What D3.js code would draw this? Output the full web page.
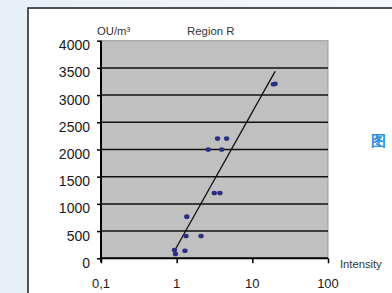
<!DOCTYPE html>
<html>
<head>
<meta charset="utf-8">
<script src="https://cdn.jsdelivr.net/npm/d3@7"></script>
<style>
  body { margin: 0; background: #fff; }
  svg { display: block; }
  text { font-family: "Liberation Sans", Arial, sans-serif; }
</style>
</head>
<body>
<script>
// measured points: odour concentration vs intensity
var intensity = [0.935, 0.964, 1.287, 1.33, 1.36, 2.1, 2.61, 3.14, 3.47, 3.73, 3.93, 4.57, 19.0, 20.0];
var odour     = [153,   79,    140,   410,  766,  410, 2000, 1200, 2200, 1200, 2000, 2200, 3200, 3210];

// log trend line end points
var trendX = [0.95, 20];
var trendY = [153, 3435];

var xTicks = [0.1, 1, 10, 100];
var xTickLabels = ["0,1", "1", "10", "100"];
var yTicks = [0, 500, 1000, 1500, 2000, 2500, 3000, 3500, 4000];

var W = 392, H = 293;
var svg = d3.select("body").append("svg").attr("width", W).attr("height", H);

// page backdrop
var grad = svg.append("defs").append("linearGradient").attr("id", "bg")
    .attr("x1", 0).attr("x2", 1).attr("y1", 0).attr("y2", 0);
grad.append("stop").attr("offset", 0).attr("stop-color", "#e9eff8");
grad.append("stop").attr("offset", 1).attr("stop-color", "#f4f7fc");
svg.append("rect").attr("width", W).attr("height", H).attr("fill", "url(#bg)");
svg.append("rect").attr("x", 28).attr("y", 8).attr("width", W).attr("height", H)
    .attr("fill", "#fff").attr("stroke", "#2a2a2a").attr("stroke-width", 1.6);

var x = d3.scaleLog().domain([0.1, 100]).range([101, 328]);
var y = d3.scaleLinear().domain([0, 4000]).range([258.3, 40.7]);

// plot area
svg.append("rect")
    .attr("x", x(0.1)).attr("y", y(4000))
    .attr("width", x(100) - x(0.1)).attr("height", y(0) - y(4000))
    .attr("fill", "#c0c0c0").attr("stroke", "#9a9a9a").attr("stroke-width", 1);

svg.append("g").selectAll("line").data(yTicks.filter(d => d > 0 && d < 4000)).join("line")
    .attr("x1", x(0.1)).attr("x2", x(100))
    .attr("y1", d => y(d)).attr("y2", d => y(d))
    .attr("stroke", "#111").attr("stroke-width", 1.5);

// axes
var yAxis = d3.axisLeft(y).tickValues(yTicks).tickSize(4).tickFormat("");
var gy = svg.append("g").attr("transform", "translate(" + x(0.1) + ",0)").call(yAxis);
gy.select(".domain").attr("stroke-width", 2).attr("d", "M0," + (y(0) + 4) + "V" + y(4000));
gy.selectAll(".tick line").attr("stroke-width", 1.5);

var xAxis = d3.axisBottom(x).tickValues(xTicks).tickSize(5).tickFormat("");
var gx = svg.append("g").attr("transform", "translate(0," + y(0) + ")").call(xAxis);
gx.select(".domain").attr("stroke-width", 2).attr("d", "M" + x(0.1) + ",0H" + x(100));
gx.selectAll(".tick line").attr("stroke-width", 1.5);

svg.append("g").selectAll("text").data(yTicks).join("text")
    .attr("x", 90).attr("y", d => y(d) + 9.5)
    .attr("text-anchor", "end")
    .attr("font-size", 14).attr("fill", "#1a1a1a")
    .text(d => d);

svg.append("g").selectAll("text").data(xTicks).join("text")
    .attr("x", d => x(d)).attr("y", 288)
    .attr("text-anchor", "middle")
    .attr("font-size", 13).attr("fill", "#1a1a1a")
    .text((d, i) => xTickLabels[i]);

// titles
svg.append("text").attr("x", 97).attr("y", 34.5).attr("font-size", 11.3).attr("fill", "#333").text("OU/m³");
svg.append("text").attr("x", 187).attr("y", 34.5).attr("font-size", 11.4).attr("fill", "#333").text("Region R");
svg.append("text").attr("x", 340).attr("y", 267.5).attr("font-size", 11.2).attr("fill", "#333").text("Intensity");

// trend line
var line = d3.line().x(d => x(d[0])).y(d => y(d[1]));
svg.append("path").datum(d3.zip(trendX, trendY))
    .attr("d", line).attr("fill", "none")
    .attr("stroke", "#111").attr("stroke-width", 1.3);

// points
svg.append("g").selectAll("ellipse").data(d3.zip(intensity, odour)).join("ellipse")
    .attr("cx", d => x(d[0])).attr("cy", d => y(d[1]))
    .attr("rx", 2.7).attr("ry", 2.3)
    .attr("fill", "#2a2f80");

// side caption
svg.append("text").attr("x", 371).attr("y", 146)
    .attr("font-family", "Noto Sans CJK SC").attr("font-weight", "bold")
    .attr("font-size", 15).attr("fill", "#2a90d8").text("图");
</script>
</body>
</html>
